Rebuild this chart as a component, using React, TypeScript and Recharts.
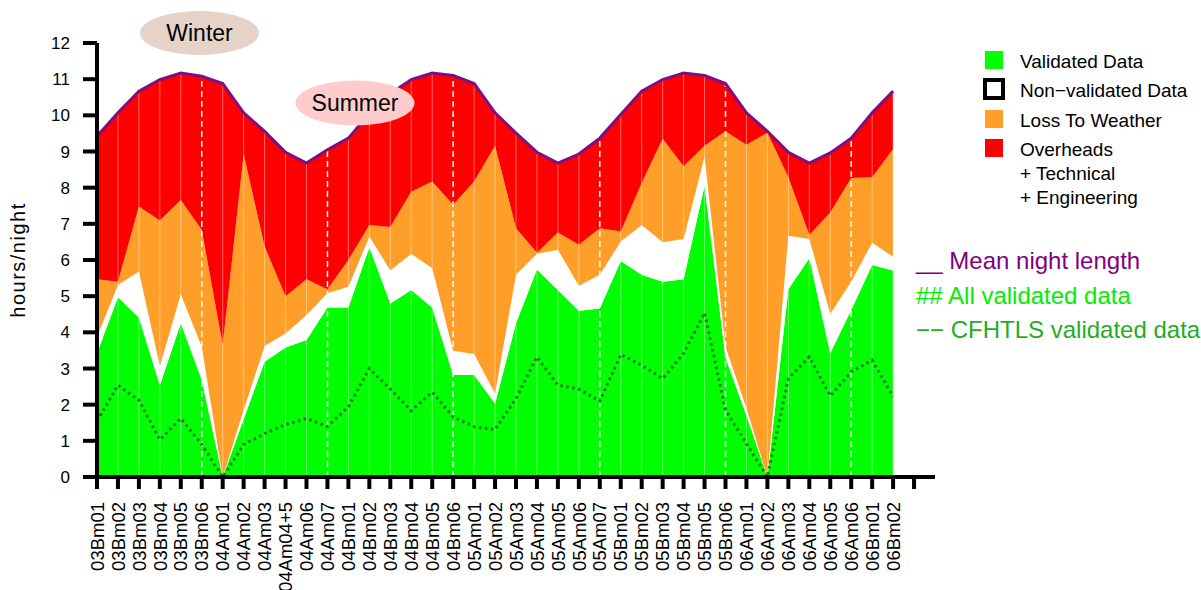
// Stacked night-usage chart: validated / non-validated / weather / overheads per run
import React from 'react'
import { ComposedChart, Area, Line, XAxis, YAxis, ReferenceLine } from 'recharts'

const categories = [
  '03Bm01', '03Bm02', '03Bm03', '03Bm04', '03Bm05', '03Bm06',
  '04Am01', '04Am02', '04Am03', '04Am04+5', '04Am06', '04Am07',
  '04Bm01', '04Bm02', '04Bm03', '04Bm04', '04Bm05', '04Bm06',
  '05Am01', '05Am02', '05Am03', '05Am04', '05Am05', '05Am06', '05Am07',
  '05Bm01', '05Bm02', '05Bm03', '05Bm04', '05Bm05', '05Bm06',
  '06Am01', '06Am02', '06Am03', '06Am04', '06Am05', '06Am06',
  '06Bm01', '06Bm02'
]

// hours per night
const nightLength = [
  9.42, 10.07, 10.67, 10.99, 11.17, 11.08,
  10.88, 10.07, 9.56, 8.98, 8.68, 9.05,
  9.37, 10.05, 10.6, 10.99, 11.17, 11.1,
  10.88, 10.07, 9.51, 8.98, 8.68, 8.93, 9.37,
  10.02, 10.67, 10.99, 11.17, 11.1, 10.88,
  10.07, 9.56, 8.98, 8.68, 8.96, 9.37,
  10.07, 10.67
]
const validated = [
  3.42, 4.97, 4.41, 2.54, 4.25, 2.68,
  0, 1.6, 3.19, 3.58, 3.79, 4.69,
  4.69, 6.35, 4.8, 5.17, 4.69, 2.82,
  2.82, 2.03, 4.25, 5.74, 5.17, 4.6, 4.66,
  5.97, 5.59, 5.4, 5.47, 8.05, 3.3,
  1.7, 0, 5.19, 6.05, 3.42, 4.62,
  5.86, 5.71
]
const nonValidated = [
  0.46, 0.34, 1.27, 0.53, 0.8, 0.92,
  0, 0.25, 0.43, 0.39, 0.69, 0.39,
  0.57, 0.3, 0.91, 1.0, 1.08, 0.67,
  0.58, 0.28, 1.34, 0.43, 1.11, 0.69, 0.93,
  0.54, 1.38, 1.09, 1.11, 0.81, 0.3,
  0.2, 0, 1.48, 0.53, 1.09, 0.78,
  0.62, 0.38
]
const weatherLoss = [
  1.59, 0.09, 1.8, 4.02, 2.61, 3.23,
  3.65, 7.08, 2.75, 1.03, 0.99, 0.11,
  0.74, 0.32, 1.2, 1.72, 2.4, 4.04,
  4.77, 6.85, 1.29, 0.03, 0.48, 1.13, 1.29,
  0.28, 1.16, 2.86, 2.01, 0.3, 5.96,
  7.29, 9.52, 1.62, 0.11, 2.8, 2.87,
  1.81, 2.98
]
const cfhtlsValidated = [
  1.55, 2.54, 2.12, 1.03, 1.62, 0.9,
  0, 0.9, 1.2, 1.45, 1.62, 1.4,
  1.94, 3.0, 2.43, 1.83, 2.35, 1.66,
  1.39, 1.31, 2.17, 3.32, 2.54, 2.43, 2.1,
  3.39, 3.09, 2.72, 3.42, 4.54, 1.85,
  0.92, 0, 2.72, 3.32, 2.24, 2.91,
  3.23, 2.22
]

const semesterEnds = ['03Bm06', '04Am07', '04Bm06', '05Am07', '05Bm06', '06Am06']
const yTicks = [0, 1, 2, 3, 4, 5, 6, 7, 8, 9, 10, 11, 12]
const xTicks = [...categories.map((_, i) => i), categories.length]

const data = categories.map((name, i) => ({
  idx: i,
  name,
  validated: validated[i],
  nonValidated: nonValidated[i],
  weatherLoss: weatherLoss[i],
  overheads: +(nightLength[i] - validated[i] - nonValidated[i] - weatherLoss[i]).toFixed(2),
  night: nightLength[i],
  cfhtls: cfhtlsValidated[i]
}))

const legendItems = [
  { lines: ['Validated Data'], color: '#00ff00' },
  { lines: ['Non\u2212validated Data'], color: '#ffffff', outline: true },
  { lines: ['Loss To Weather'], color: '#ff9f29' },
  { lines: ['Overheads', '+ Technical', '+ Engineering'], color: '#ff0000' }
]

const notes = [
  { text: '__ Mean night length', color: '#800080' },
  { text: '## All validated data', color: '#00ee00' },
  { text: '\u2212\u2212 CFHTLS validated data', color: '#1fae1f' }
]

const XTick = ({ x, y, payload }: any) => (
  <text
    x={x}
    y={y}
    transform={`rotate(-90, ${x}, ${y})`}
    textAnchor="end"
    dy="0.36em"
    fontSize={18.5}
    fill="#000"
  >
    {categories[payload.value] ?? ''}
  </text>
)

const YLabel = ({ viewBox }: any) => {
  const cx = viewBox.x + 18
  const cy = viewBox.y + viewBox.height / 2
  return (
    <text
      x={cx}
      y={cy}
      transform={`rotate(-90, ${cx}, ${cy})`}
      textAnchor="middle"
      dy="0.36em"
      fontSize={20}
      letterSpacing={1.5}
      fill="#000"
    >
      hours/night
    </text>
  )
}

export default function App() {
  return (
    <div
      style={{
        position: 'absolute', left: 0, top: 0, width: 1201, height: 590,
        fontFamily: '"Liberation Sans", Arial, sans-serif', background: '#fff'
      }}
    >
      <ComposedChart
        width={1201}
        height={590}
        data={data}
        margin={{ top: 43, right: 266, bottom: 0, left: 0 }}
      >
        <XAxis
          type="number"
          dataKey="idx"
          domain={[0, 40]}
          ticks={xTicks}
          interval={0}
          height={113}
          tickSize={12}
          tickMargin={13}
          axisLine={{ stroke: '#000', strokeWidth: 4 }}
          tickLine={{ stroke: '#000', strokeWidth: 4 }}
          tick={<XTick />}
        />
        <YAxis
          type="number"
          domain={[0, 12]}
          ticks={yTicks}
          interval={0}
          width={97}
          tickSize={14}
          tickMargin={13}
          axisLine={{ stroke: '#000', strokeWidth: 4 }}
          tickLine={{ stroke: '#000', strokeWidth: 4 }}
          tick={{ fontSize: 17, fill: '#000' }}
          label={<YLabel />}
        />
        <Area type="linear" dataKey="validated" stackId="s" fill="#00ff00" fillOpacity={1} stroke="none" isAnimationActive={false} />
        <Area type="linear" dataKey="nonValidated" stackId="s" fill="#ffffff" fillOpacity={1} stroke="none" isAnimationActive={false} />
        <Area type="linear" dataKey="weatherLoss" stackId="s" fill="#ff9f29" fillOpacity={1} stroke="none" isAnimationActive={false} />
        <Area type="linear" dataKey="overheads" stackId="s" fill="#ff0000" fillOpacity={1} stroke="none" isAnimationActive={false} />
        {categories.map((c, i) =>
          i > 0 && !semesterEnds.includes(c) ? (
            <ReferenceLine
              key={c}
              segment={[{ x: i, y: 0 }, { x: i, y: nightLength[i] }]}
              stroke="#ffffff"
              strokeOpacity={0.4}
              strokeWidth={1}
            />
          ) : null
        )}
        {semesterEnds.map((c) => {
          const i = categories.indexOf(c)
          return (
            <ReferenceLine
              key={'sem-' + c}
              segment={[{ x: i, y: 0 }, { x: i, y: nightLength[i] }]}
              stroke="#ffffff"
              strokeWidth={1.5}
              strokeDasharray="6 4"
            />
          )
        })}
        <Line type="linear" dataKey="cfhtls" stroke="#1b7d1b" strokeWidth={3} strokeDasharray="2.5 3.5" dot={false} isAnimationActive={false} />
        <Line type="linear" dataKey="night" stroke="#7d0f80" strokeWidth={3} dot={false} isAnimationActive={false} />
      </ComposedChart>

      <svg
        width={1201}
        height={590}
        style={{ position: 'absolute', left: 0, top: 0, pointerEvents: 'none' }}
      >
        <ellipse cx={199.5} cy={33} rx={59.5} ry={22} fill="#e6d3c7" />
        <text x={199.5} y={33} dy="0.36em" textAnchor="middle" fontSize={23} fill="#000">Winter</text>
        <ellipse cx={355} cy={103} rx={59.5} ry={22.5} fill="#ffcccc" />
        <text x={355} y={103} dy="0.36em" textAnchor="middle" fontSize={23} fill="#000">Summer</text>

        {legendItems.map((item, k) => {
          const base = [68, 97, 127, 156][k]
          return (
            <g key={item.lines[0]}>
              <rect
                x={985}
                y={base - 17}
                width={18}
                height={18}
                fill={item.color}
                stroke={item.outline ? '#000' : 'none'}
                strokeWidth={item.outline ? 4 : 0}
              />
              {item.lines.map((ln, j) => (
                <text key={ln} x={1020} y={base + j * 24} fontSize={19} fill="#000">{ln}</text>
              ))}
            </g>
          )
        })}

        {notes.map((n, k) => (
          <text key={n.text} x={916} y={269 + k * 34.5} fontSize={24} fill={n.color}>{n.text}</text>
        ))}
      </svg>
    </div>
  )
}
